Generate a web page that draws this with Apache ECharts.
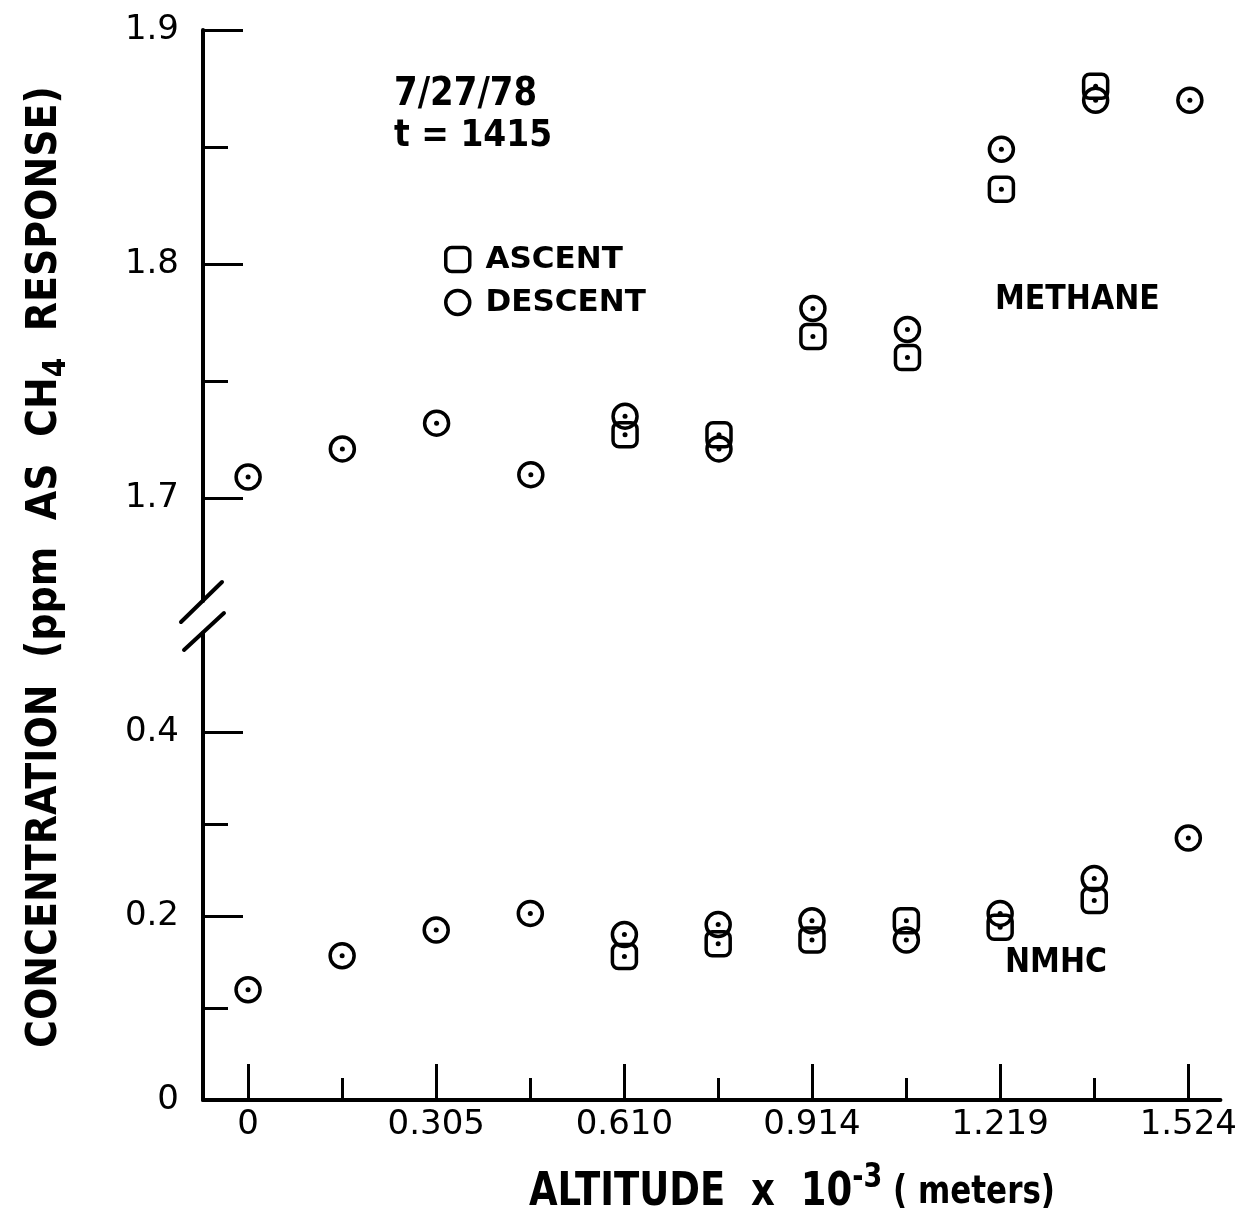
<!DOCTYPE html>
<html>
<head>
<meta charset="utf-8">
<script src="https://cdn.jsdelivr.net/npm/echarts@6/dist/echarts.min.js"></script>
<style>
  html, body { margin: 0; padding: 0; background: #fff; }
  #chart { width: 1240px; height: 1221px; }
</style>
</head>
<body>
<div id="chart"></div>
<script>
// altitude (km, i.e. meters x 10^-3)
const descentAltitude = [0, 0.1525, 0.305, 0.4575, 0.610, 0.762, 0.914, 1.067, 1.219, 1.3715, 1.524];
const ascentAltitude = [0.610, 0.762, 0.914, 1.067, 1.219, 1.3715];

// methane (ppm)
const methaneDescent = [1.709, 1.721, 1.732, 1.710, 1.735, 1.721, 1.781, 1.772, 1.849, 1.870, 1.870];
const methaneAscent = [1.727, 1.727, 1.769, 1.760, 1.832, 1.876];

// non-methane hydrocarbons (ppm)
const nmhcDescent = [0.120, 0.157, 0.185, 0.203, 0.180, 0.191, 0.195, 0.174, 0.203, 0.241, 0.285];
const nmhcAscent = [0.156, 0.170, 0.174, 0.195, 0.188, 0.217];

// ticks
const xMajorTicks = [0, 0.305, 0.610, 0.914, 1.219, 1.524];
const xMinorTicks = [0.1525, 0.4575, 0.762, 1.067, 1.3715];
const yUpperMajor = [1.7, 1.8, 1.9];
const yUpperMinor = [1.75, 1.85];
const yLowerMajor = [0, 0.2, 0.4];
const yLowerMinor = [0.1, 0.3];

const FONT = "DejaVu Sans";
const INK = "#000";

const zip = (xs, ys) => xs.map((x, i) => [x, ys[i]]);

const chart = echarts.init(document.getElementById("chart"));

const baseAxis = {
  type: "value",
  axisLine: { show: true, onZero: false, lineStyle: { color: INK, width: 4 } },
  splitLine: { show: false },
  axisLabel: { show: false },
  axisTick: { show: false }
};

function majorY(grid, min, max, ticks) {
  return Object.assign({}, baseAxis, {
    gridIndex: grid, position: "left", min: min, max: max,
    axisTick: { show: true, inside: true, length: 40, customValues: ticks, lineStyle: { color: INK, width: 3 } },
    axisLabel: { show: true, customValues: ticks, margin: 24, color: INK, fontFamily: FONT, fontSize: 34 }
  });
}
function minorY(grid, min, max, ticks) {
  return Object.assign({}, baseAxis, {
    gridIndex: grid, position: "left", min: min, max: max,
    axisLine: { show: false, onZero: false },
    axisTick: { show: true, inside: true, length: 25, customValues: ticks, lineStyle: { color: INK, width: 3 } }
  });
}

const X_MIN = -0.073, X_MAX = 1.576;

function ring(name, symbol, xa, ya, data) {
  return {
    name: name, type: "scatter", xAxisIndex: xa, yAxisIndex: ya,
    symbol: symbol, symbolSize: 24, data: data, z: 3,
    itemStyle: { color: "transparent", borderColor: INK, borderWidth: 3.5, opacity: 1 }
  };
}
function dot(xa, ya, data) {
  return {
    name: "dot", type: "scatter", xAxisIndex: xa, yAxisIndex: ya,
    symbol: "circle", symbolSize: 5, data: data, z: 4,
    itemStyle: { color: INK, opacity: 1 }
  };
}

function note(text, x, y, size, sy) {
  return {
    type: "text", x: x, y: y, scaleY: sy,
    style: { text: text, font: "bold " + size + "px " + FONT, fill: INK, verticalAlign: "top" }
  };
}

const methaneAsc = zip(ascentAltitude, methaneAscent);
const methaneDesc = zip(descentAltitude, methaneDescent);
const nmhcAsc = zip(ascentAltitude, nmhcAscent);
const nmhcDesc = zip(descentAltitude, nmhcDescent);

const option = {
  backgroundColor: "#fff",
  animation: false,
  textStyle: { fontFamily: FONT, color: INK },
  grid: [
    { left: 203, top: 30, width: 1019, height: 571 },
    { left: 203, top: 633, width: 1019, height: 467 }
  ],
  xAxis: [
    Object.assign({}, baseAxis, { gridIndex: 0, min: X_MIN, max: X_MAX, show: false }),
    Object.assign({}, baseAxis, {
      gridIndex: 1, position: "bottom", min: X_MIN, max: X_MAX,
      axisTick: { show: true, inside: true, length: 36, customValues: xMajorTicks, lineStyle: { color: INK, width: 3 } },
      axisLabel: {
        show: true, customValues: xMajorTicks, margin: 8, color: INK, fontFamily: FONT, fontSize: 34,
        formatter: v => (v === 0 ? "0" : v.toFixed(3))
      }
    }),
    Object.assign({}, baseAxis, {
      gridIndex: 1, position: "bottom", min: X_MIN, max: X_MAX,
      axisLine: { show: false, onZero: false },
      axisTick: { show: true, inside: true, length: 22, customValues: xMinorTicks, lineStyle: { color: INK, width: 3 } }
    })
  ],
  yAxis: [
    majorY(0, 1.656, 1.9, yUpperMajor),
    minorY(0, 1.656, 1.9, yUpperMinor),
    majorY(1, 0, 0.508, yLowerMajor),
    minorY(1, 0, 0.508, yLowerMinor)
  ],
  legend: {
    orient: "vertical", left: 439, top: 239, itemGap: 12,
    itemWidth: 24, itemHeight: 24,
    formatter: name => " " + name,
    textStyle: { fontFamily: FONT, fontSize: 31, fontWeight: "bold", color: INK },
    itemStyle: { color: "transparent", borderColor: INK, borderWidth: 3.5 },
    data: [{ name: "ASCENT", icon: "roundRect" }, { name: "DESCENT", icon: "circle" }]
  },
  series: [
    ring("ASCENT", "roundRect", 0, 0, methaneAsc),
    ring("DESCENT", "circle", 0, 0, methaneDesc),
    ring("ASCENT", "roundRect", 1, 2, nmhcAsc),
    ring("DESCENT", "circle", 1, 2, nmhcDesc),
    dot(0, 0, methaneAsc.concat(methaneDesc)),
    dot(1, 2, nmhcAsc.concat(nmhcDesc))
  ],
  graphic: [
    // axis break marks
    { type: "line", shape: { x1: 181, y1: 622, x2: 222, y2: 582 }, style: { stroke: INK, lineWidth: 4, lineCap: "round" } },
    { type: "line", shape: { x1: 184, y1: 650, x2: 224, y2: 613 }, style: { stroke: INK, lineWidth: 4, lineCap: "round" } },
    // annotations
    note("7/27/78", 394, 75, 34, 1.15),
    note("t = 1415", 394, 117, 33, 1.15),
    note("METHANE", 995, 283, 30, 1.15),
    note("NMHC", 1005, 946, 30, 1.15),
    // y axis title
    {
      type: "text", x: 45, y: 567, rotation: Math.PI / 2, scaleY: 1.12,
      style: {
        text: "{a|CONCENTRATION  (ppm  AS  CH}{s|4}{a|  RESPONSE)}",
        align: "center", verticalAlign: "middle",
        rich: {
          a: { fontFamily: FONT, fontSize: 38, fontWeight: "bold", fill: INK, lineHeight: 50, verticalAlign: "middle" },
          s: { fontFamily: FONT, fontSize: 28, fontWeight: "bold", fill: INK, lineHeight: 50, verticalAlign: "bottom" }
        }
      }
    },
    // x axis title
    {
      type: "text", x: 792, y: 1193, scaleY: 1.25,
      style: {
        text: "{a|ALTITUDE  x  10}{s|-3}{b| ( meters)}",
        align: "center", verticalAlign: "middle",
        rich: {
          a: { fontFamily: FONT, fontSize: 37, fontWeight: "bold", fill: INK, lineHeight: 50, verticalAlign: "middle" },
          s: { fontFamily: FONT, fontSize: 27, fontWeight: "bold", fill: INK, lineHeight: 50, verticalAlign: "top" },
          b: { fontFamily: FONT, fontSize: 31, fontWeight: "bold", fill: INK, lineHeight: 50, verticalAlign: "middle" }
        }
      }
    }
  ]
};

chart.setOption(option);
window.addEventListener("resize", () => chart.resize());
</script>
</body>
</html>
